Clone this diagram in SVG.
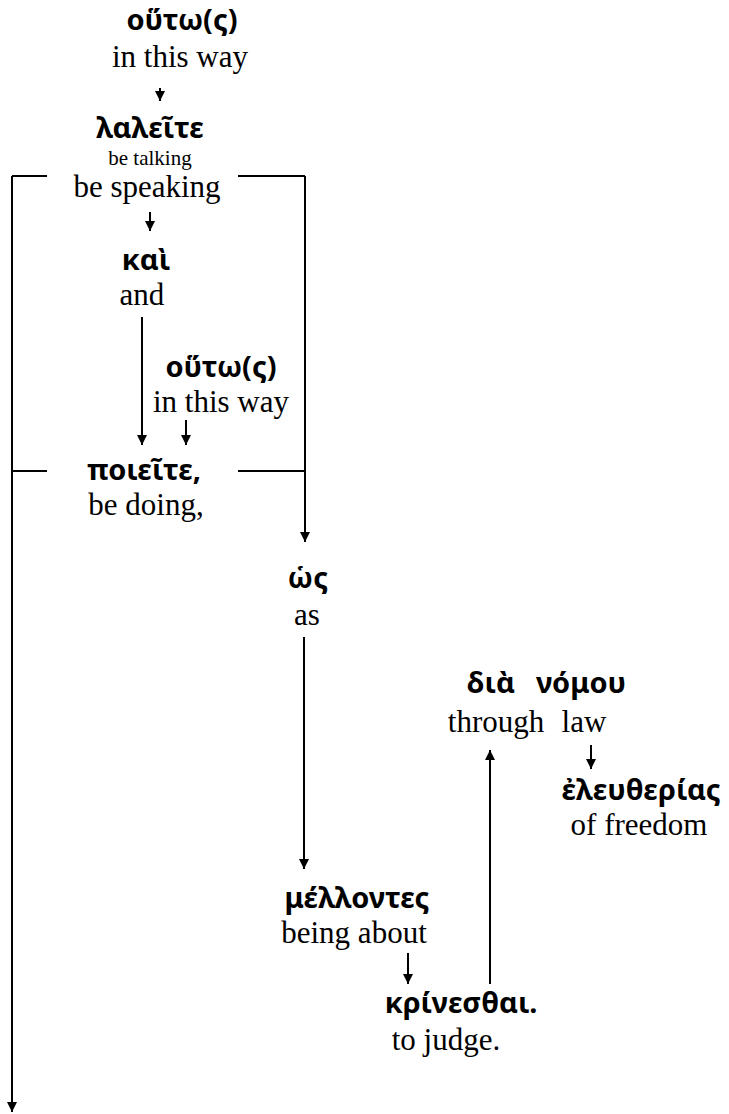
<svg xmlns="http://www.w3.org/2000/svg" width="729" height="1114" viewBox="0 0 729 1114">
<style>
.g{font-family:"Noto Sans","DejaVu Sans",sans-serif;font-weight:bold;font-size:29px;fill:#000;text-anchor:middle}
.e{font-family:"Liberation Serif","Times New Roman",serif;font-size:31px;fill:#000;text-anchor:middle}
.s{font-family:"Liberation Serif","Times New Roman",serif;font-size:21px;fill:#000;text-anchor:middle}
.ln{stroke:#000;stroke-width:2;fill:none}
.ar{stroke:#000;stroke-width:2;fill:none;marker-end:url(#ah)}
</style>
<defs>
<marker id="ah" viewBox="0 0 10 10" refX="10" refY="5" markerWidth="5" markerHeight="5" markerUnits="strokeWidth" orient="auto">
<path d="M0,0 L10,5 L0,10 Z" fill="#000"/>
</marker>
</defs>
<rect width="729" height="1114" fill="#fff"/>
<g id="connectors">
<path class="ar" d="M160,88 V101"/>
<path class="ln" d="M47,176 H12"/>
<path class="ar" d="M12,176 V1112"/>
<path class="ln" d="M238,176 H305"/>
<path class="ar" d="M305,176 V542"/>
<path class="ar" d="M150,212 V231"/>
<path class="ar" d="M142,317 V445"/>
<path class="ar" d="M186,420 V445"/>
<path class="ln" d="M12,471 H47"/>
<path class="ln" d="M238,471 H305"/>
<path class="ar" d="M304,637 V869"/>
<path class="ar" d="M408,953 V984"/>
<path class="ar" d="M490,984 V750"/>
<path class="ar" d="M591,745 V769"/>
</g>
<g id="n1"><text class="g" x="182" y="30">οὕτω(ς)</text><text class="e" x="180" y="67">in this way</text></g>
<g id="n2"><text class="g" x="150" y="138">λαλεῖτε</text><text class="s" x="150" y="165">be talking</text><text class="e" x="147" y="197">be speaking</text></g>
<g id="n3"><text class="g" x="146" y="270">καὶ</text><text class="e" x="142" y="305">and</text></g>
<g id="n4"><text class="g" x="221" y="377">οὕτω(ς)</text><text class="e" x="221" y="412">in this way</text></g>
<g id="n5"><text class="g" x="144" y="480">ποιεῖτε,</text><text class="e" x="146" y="515">be doing,</text></g>
<g id="n6"><text class="g" x="308" y="588">ὡς</text><text class="e" x="307" y="625">as</text></g>
<g id="n7"><text class="g" x="491" y="693">διὰ</text><text class="e" x="496" y="732">through</text></g>
<g id="n8"><text class="g" x="581" y="693">νόμου</text><text class="e" x="584" y="732">law</text></g>
<g id="n9"><text class="g" x="641" y="800">ἐλευθερίας</text><text class="e" x="639" y="835">of freedom</text></g>
<g id="n10"><text class="g" x="357" y="908">μέλλοντες</text><text class="e" x="354" y="943">being about</text></g>
<g id="n11"><text class="g" x="461" y="1013">κρίνεσθαι.</text><text class="e" x="446" y="1050">to judge.</text></g>
</svg>
